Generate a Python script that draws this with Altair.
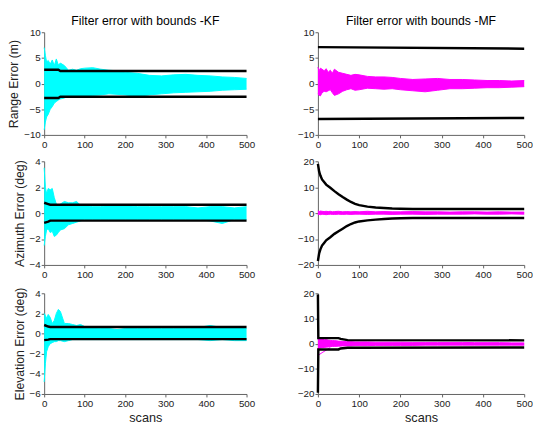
import altair as alt
import pandas as pd

# ---------------- data ----------------
X = [0, 3, 6, 10, 15, 20, 25, 30, 35, 40, 50, 60, 70, 80, 90, 100, 120, 140, 160, 180,
     200, 230, 260, 290, 320, 350, 380, 410, 440, 470, 500]
X_TICKS = [0, 100, 200, 300, 400, 500]

# Panel 1: KF range
kf_rng_hi = [7.0, 5.5, 4.2, 4.5, 3.8, 4.6, 3.5, 4.8, 3.6, 4.0, 3.5, 2.6, 2.8, 2.6, 2.9, 3.0, 3.1, 2.8, 2.6, 2.5,
             2.2, 2.0, 1.6, 1.5, 1.7, 1.8, 1.6, 1.5, 1.3, 1.2, 1.0]
kf_rng_lo = [-9.0, -7.5, -6.5, -6.0, -5.0, -4.5, -3.8, -3.5, -3.2, -3.0, -2.8, -2.5, -2.6, -2.4, -2.5, -2.7, -2.3, -2.2, -2.0, -2.1,
             -2.2, -2.5, -2.2, -2.0, -1.8, -1.7, -1.6, -1.5, -1.3, -1.2, -1.1]
kf_rng_bx = [0, 35, 40, 500]
kf_rng_up = [2.7, 2.7, 2.45, 2.45]
kf_rng_dn = [-2.8, -2.8, -2.55, -2.55]

# Panel 2: MF range
mf_rng_hi = [3.2, 2.5, 3.0, 2.8, 2.5, 2.9, 2.2, 2.6, 2.0, 2.8, 2.2, 2.0, 1.8, 1.6, 1.8, 1.7, 1.4, 1.3, 1.3, 1.2,
             1.0, 0.8, 0.9, 1.0, 0.8, 0.8, 0.7, 0.6, 0.6, 0.5, 0.6]
mf_rng_lo = [-2.0, -2.3, -2.4, -1.8, -1.5, -1.6, -1.4, -1.2, -1.8, -2.3, -2.0, -1.5, -1.2, -1.0, -1.3, -1.2, -0.9, -1.0, -1.1, -1.0,
             -1.2, -1.4, -1.6, -1.3, -1.0, -1.0, -0.9, -0.8, -0.8, -0.7, -0.6]
mf_rng_bx = [0, 500]
mf_rng_up = [7.1, 6.8]
mf_rng_dn = [-6.9, -6.7]

# Panel 3: KF azimuth
kf_az_hi = [3.5, 2.0, 1.5, 1.9, 1.8, 1.9, 1.2, 0.7, 0.6, 0.7, 0.9, 0.8, 0.8, 0.9, 0.6, 0.6, 0.5, 0.5, 0.6, 0.6,
            0.6, 0.5, 0.5, 0.5, 0.5, 0.5, 0.4, 0.5, 0.5, 0.4, 0.5]
kf_az_lo = [-2.5, -1.8, -1.3, -1.2, -1.5, -1.4, -1.8, -1.7, -1.5, -1.3, -1.2, -0.9, -0.8, -0.7, -0.6, -0.5, -0.5, -0.5, -0.5, -0.5,
            -0.5, -0.5, -0.5, -0.5, -0.5, -0.5, -0.5, -0.6, -0.8, -0.5, -0.5]
kf_az_bx = [0, 10, 15, 500]
kf_az_up = [0.8, 0.7, 0.65, 0.65]
kf_az_dn = [-0.75, -0.65, -0.58, -0.58]

# Panel 4: MF azimuth
mf_az_hi = [0.9, 0.6, 0.8, 0.7, 0.6, 0.7, 0.6, 0.7, 0.5, 0.6, 0.7, 0.5, 0.6, 0.5, 0.6, 0.5, 0.7, 0.5, 0.6, 0.5,
            0.5, 0.6, 0.5, 0.5, 0.4, 0.5, 0.5, 0.4, 0.5, 0.4, 0.4]
mf_az_lo = [-0.6, -0.5, -0.6, -0.4, -0.5, -0.6, -0.5, -0.4, -0.5, -0.5, -0.4, -0.5, -0.4, -0.5, -0.4, -0.4, -0.5, -0.4, -0.4, -0.5,
            -0.4, -0.4, -0.5, -0.4, -0.4, -0.4, -0.3, -0.4, -0.4, -0.3, -0.4]
mf_az_bx = [0, 3, 6, 10, 15, 20, 30, 40, 50, 60, 70, 80, 90, 100, 120, 140, 160, 180, 200, 230, 500]
mf_az_up = [19.0, 16.0, 14.5, 13.0, 12.0, 11.0, 9.8, 8.5, 7.3, 6.2, 5.2, 4.3, 3.6, 3.1, 2.5, 2.2, 2.0, 1.8, 1.7, 1.6, 1.6]
mf_az_dn = [-18.5, -15.5, -14.0, -12.5, -11.5, -10.5, -9.3, -8.0, -7.0, -6.0, -5.0, -4.2, -3.6, -3.2, -2.8, -2.5, -2.3, -2.1, -2.0, -1.9, -1.9]

# Panel 5: KF elevation
kf_el_hi = [2.0, 1.8, 1.5, 1.9, 1.6, 1.0, 1.3, 2.0, 2.4, 2.2, 1.0, 1.0, 0.9, 0.8, 0.9, 0.7, 0.6, 0.5, 0.5, 0.4,
            0.5, 0.5, 0.5, 0.5, 0.5, 0.5, 0.6, 0.8, 0.6, 0.7, 0.5]
kf_el_lo = [-4.8, -3.0, -1.8, -1.3, -1.0, -0.9, -0.8, -0.8, -0.7, -0.7, -0.8, -0.7, -0.6, -0.6, -0.6, -0.6, -0.6, -0.6, -0.6, -0.6,
            -0.6, -0.6, -0.6, -0.6, -0.6, -0.6, -0.6, -0.7, -0.6, -0.7, -0.7]
kf_el_bx = [0, 10, 15, 500]
kf_el_up = [0.85, 0.7, 0.65, 0.65]
kf_el_dn = [-0.65, -0.6, -0.55, -0.55]

# Panel 6: MF elevation
mf_el_hi = [2.5, 2.0, 1.8, 2.0, 1.5, 1.6, 1.4, 1.3, 1.2, 1.2, 1.0, 0.9, 0.8, 0.8, 0.7, 0.7, 0.7, 0.6, 0.6, 0.6,
            0.6, 0.5, 0.5, 0.5, 0.5, 0.5, 0.4, 0.4, 0.4, 0.3, 0.3]
mf_el_lo = [-2.0, -1.8, -1.7, -1.6, -1.5, -1.4, -1.3, -1.2, -1.1, -1.1, -1.0, -0.9, -0.9, -0.9, -0.8, -0.8, -0.8, -0.7, -0.7, -0.7,
            -0.7, -0.7, -0.6, -0.6, -0.6, -0.6, -0.6, -0.6, -0.6, -0.6, -0.6]
mf_el_out_x = [0, 10, 20, 30]
mf_el_out_y = [-4.7, -3.6, -2.6, -1.5]
mf_el_bx = [0, 1, 50, 55, 72, 500]
mf_el_up = [19.5, 2.2, 2.2, 1.9, 1.4, 1.3]
mf_el_dn = [-19.5, -2.3, -2.3, -1.9, -1.65, -1.5]

CYAN = "#00FFFF"
MAGENTA = "#FF00FF"
FONT = "Liberation Sans"


def panel(hi, lo, bx, bup, bdn, color, dom, ticks, w, h, title=None, ytitle=None, xtitle=None,
          out_x=None, out_y=None):
    band = pd.DataFrame({"scan": X, "hi": hi, "lo": lo})
    bnd = pd.DataFrame({"scan": bx + bx, "val": bup + bdn,
                        "which": ["up"] * len(bx) + ["dn"] * len(bx)})
    xaxis = alt.Axis(values=X_TICKS, title=xtitle, labelOverlap=False, labelFlush=False)
    yaxis = alt.Axis(values=ticks, title=ytitle, labelOverlap=False, labelFlush=False)
    xscale = alt.Scale(domain=[0, 500], nice=False)
    yscale = alt.Scale(domain=dom, nice=False)

    def xe():
        return alt.X("scan:Q", scale=xscale, axis=xaxis)

    def ye(f):
        return alt.Y(f, scale=yscale, axis=yaxis)

    area = alt.Chart(band).mark_area(color=color, opacity=1, line=False).encode(
        x=xe(), y=ye("hi:Q"), y2="lo:Q")
    edge_hi = alt.Chart(band).mark_line(color=color, strokeWidth=1).encode(x=xe(), y=ye("hi:Q"))
    edge_lo = alt.Chart(band).mark_line(color=color, strokeWidth=1).encode(x=xe(), y=ye("lo:Q"))
    layers = [area, edge_hi, edge_lo]
    if out_x is not None:
        out = pd.DataFrame({"scan": out_x, "val": out_y})
        layers.append(alt.Chart(out).mark_line(color=color, strokeWidth=1).encode(x=xe(), y=ye("val:Q")))
    bounds = alt.Chart(bnd).mark_line(color="black", strokeWidth=2.5).encode(
        x=xe(), y=ye("val:Q"), detail="which:N")
    layers.append(bounds)
    ch = alt.layer(*layers).properties(width=w, height=h)
    if title:
        ch = ch.properties(title=alt.TitleParams(title, fontSize=12.5, font=FONT, fontWeight="normal",
                                                 color="black", offset=0))
    return ch


p1 = panel(kf_rng_hi, kf_rng_lo, kf_rng_bx, kf_rng_up, kf_rng_dn, CYAN, [-10, 10], [-10, -5, 0, 5, 10],
           207, 105, title="Filter error with bounds -KF", ytitle="Range Error (m)")
p2 = panel(mf_rng_hi, mf_rng_lo, mf_rng_bx, mf_rng_up, mf_rng_dn, MAGENTA, [-10, 10], [-10, -5, 0, 5, 10],
           211, 105, title="Filter error with bounds -MF")
p3 = panel(kf_az_hi, kf_az_lo, kf_az_bx, kf_az_up, kf_az_dn, CYAN, [-4, 4], [-4, -2, 0, 2, 4],
           207, 106, ytitle="Azimuth Error (deg)")
p4 = panel(mf_az_hi, mf_az_lo, mf_az_bx, mf_az_up, mf_az_dn, MAGENTA, [-20, 20], [-20, -10, 0, 10, 20],
           211, 106)
p5 = panel(kf_el_hi, kf_el_lo, kf_el_bx, kf_el_up, kf_el_dn, CYAN, [-6, 4], [-6, -4, -2, 0, 2, 4],
           207, 103, ytitle="Elevation Error (deg)", xtitle="scans")
p6 = panel(mf_el_hi, mf_el_lo, mf_el_bx, mf_el_up, mf_el_dn, MAGENTA, [-20, 20], [-20, -10, 0, 10, 20],
           211, 103, xtitle="scans", out_x=mf_el_out_x, out_y=mf_el_out_y)

chart = alt.concat(p1, p2, p3, p4, p5, p6, columns=2, spacing={"row": 7, "column": 43}).configure_view(
    stroke=None
).configure_axis(
    grid=False, domainColor="#606060", domainWidth=1, tickColor="#606060", tickSize=3,
    labelFont=FONT, labelFontSize=10, labelColor="#222222", labelPadding=1,
    titleFont=FONT, titleFontSize=12.5, titleFontWeight="normal", titleColor="#222222", titlePadding=3
).configure_axisX(titlePadding=3, titleFontSize=13, labelPadding=2).properties(
    padding={"left": 0, "top": 2, "right": 0, "bottom": 0})

chart.save("out.html", embed_options={"renderer": "svg", "actions": False})
